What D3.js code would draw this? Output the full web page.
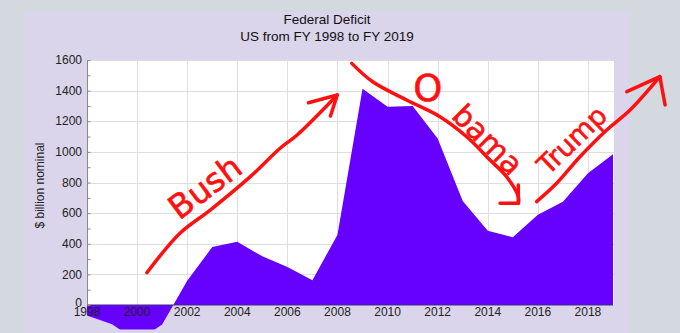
<!DOCTYPE html>
<html>
<head>
<meta charset="utf-8">
<script src="https://cdn.jsdelivr.net/npm/d3@7"></script>
<style>
  html, body { margin: 0; padding: 0; background: #d3d9df; }
  svg { display: block; }
</style>
</head>
<body>
<svg id="chart" width="680" height="333"></svg>
<script>
// ---- data ----
const years = [1998,1999,2000,2001,2002,2003,2004,2005,2006,2007,2008,2009,2010,2011,2012,2013,2014,2015,2016,2017,2018,2019];
const deficit = [-69,-126,-236,-128,158,378,413,318,248,161,459,1413,1294,1300,1087,680,485,442,590,675,860,984];
const xTicks = [1998,2000,2002,2004,2006,2008,2010,2012,2014,2016,2018];
const yTicks = [0,200,400,600,800,1000,1200,1400,1600];
const titleLines = ["Federal Deficit", "US from FY 1998 to FY 2019"];
const yTitle = "$ billion nominal";

// hand-drawn annotations, in [year, value]
const bushArrow = [[2000.39,211],[2001.72,470],[2002.92,620],[2004.52,838],[2005.72,1025],[2006.39,1110],[2007.99,1371]];
const bushHead = [[2006.84,1321],[2007.99,1371],[2007.72,1234]];
const obamaArrow = [[2008.57,1578],[2009.42,1456],[2010.76,1339],[2012.09,1230],[2013.16,1099],[2014.09,947],[2014.75,838],[2015.22,707],[2015.22,664]];
const obamaHead = [[2014.49,664],[2015.22,664],[2015.22,784]];
const trumpArrow = [[2015.95,675],[2016.75,795],[2017.68,968],[2018.75,1143],[2019.68,1273],[2020.87,1491]];
const trumpHead = [[2019.55,1393],[2020.87,1491],[2021.08,1306]];
const labels = [
  {text: "Bush", at: [2002.71, 771], rot: -37, size: 33},
  {text: "O", at: [2011.61, 1420], rot: 0, size: 37},
  {text: "bama", at: [2014.0, 1080], rot: 45, size: 30},
  {text: "Trump", at: [2017.36, 1078], rot: -44, size: 27}
];

// ---- layout ----
const svg = d3.select("#chart");
const W = 680, H = 333;
const panel = {x: 24, y: 12, w: 606, h: H - 12};
const plot = {l: 87, r: 613, t: 60, b: 305};

const x = d3.scaleLinear().domain([1998, 2019]).range([plot.l, plot.r]);
const y = d3.scaleLinear().domain([0, 1600]).range([plot.b, plot.t]);

svg.append("rect").attr("x", 0).attr("y", 0).attr("width", W).attr("height", H).attr("fill", "#d3d9df");
svg.append("rect").attr("x", panel.x).attr("y", panel.y).attr("width", panel.w).attr("height", panel.h).attr("fill", "#dad5ea");
svg.append("rect").attr("x", plot.l).attr("y", plot.t).attr("width", plot.r - plot.l + 1).attr("height", plot.b - plot.t).attr("fill", "#ffffff");

// gridlines
const grid = svg.append("g").attr("stroke", "#dedede").attr("stroke-width", 1);
yTicks.forEach(v => grid.append("line").attr("x1", plot.l).attr("x2", plot.r + 1).attr("y1", Math.round(y(v)) + 0.5).attr("y2", Math.round(y(v)) + 0.5));
xTicks.forEach(v => grid.append("line").attr("y1", plot.t).attr("y2", plot.b).attr("x1", Math.round(x(v)) + 0.5).attr("x2", Math.round(x(v)) + 0.5));

// area
svg.append("defs").append("clipPath").attr("id", "clip")
  .append("rect").attr("x", plot.l).attr("y", 0).attr("width", plot.r - plot.l).attr("height", y(-160));
const area = d3.area().x((d, i) => x(years[i])).y0(y(0)).y1(d => y(d));
svg.append("path").datum(deficit).attr("d", area).attr("fill", "#6600ff").attr("clip-path", "url(#clip)");

// axis lines
svg.append("line").attr("x1", plot.l).attr("x2", plot.r).attr("y1", y(0)).attr("y2", y(0)).attr("stroke", "#3d2a8a").attr("stroke-width", 1.2);
svg.append("line").attr("x1", plot.l + 0.5).attr("x2", plot.l + 0.5).attr("y1", plot.t).attr("y2", plot.b).attr("stroke", "#8a8a8a").attr("stroke-width", 1);

// y axis (ticks inside)
const yAxis = d3.axisLeft(y).tickValues(d3.range(0, 1601, 100)).tickSize(-3).tickFormat("");
svg.append("g").attr("transform", `translate(${plot.l + 0.5},0)`).call(yAxis)
  .call(g => g.select(".domain").remove())
  .call(g => g.selectAll("line").attr("stroke", "#8a8a8a"));

const font = "'Liberation Sans', Arial, sans-serif";
const yl = svg.append("g");
yl.selectAll("text").data(yTicks).join("text")
  .attr("x", 82).attr("y", d => y(d) - (d === 0 ? 2 : 0)).attr("dy", "0.35em")
  .attr("text-anchor", "end").attr("font-family", font).attr("font-size", 12).attr("fill", "#222")
  .text(d => d);

const xl = svg.append("g");
xl.selectAll("text").data(xTicks).join("text")
  .attr("x", d => x(d)).attr("y", y(0) + 7).attr("dy", "0.35em")
  .attr("text-anchor", "middle").attr("font-family", font).attr("font-size", 12).attr("fill", "#222")
  .text(d => d);

svg.append("text").attr("transform", `translate(44,${(plot.t + plot.b) / 2 + 3}) rotate(-90)`)
  .attr("text-anchor", "middle").attr("font-family", font).attr("font-size", 12).attr("fill", "#222")
  .text(yTitle);

svg.selectAll("text.title").data(titleLines).join("text").attr("class", "title")
  .attr("x", 327).attr("y", (d, i) => 24 + i * 17)
  .attr("text-anchor", "middle").attr("font-family", font).attr("font-size", 13.5).attr("fill", "#111")
  .text(d => d);

// annotations
const line = d3.line().x(d => x(d[0])).y(d => y(d[1])).curve(d3.curveCatmullRom);
const lineStraight = d3.line().x(d => x(d[0])).y(d => y(d[1]));
const ann = svg.append("g").attr("fill", "none").attr("stroke", "#ff1010").attr("stroke-width", 3.5)
  .attr("stroke-linecap", "round").attr("stroke-linejoin", "round");
[bushArrow, obamaArrow, trumpArrow].forEach(a => ann.append("path").attr("d", line(a)));
[bushHead, obamaHead, trumpHead].forEach(a => ann.append("path").attr("d", lineStraight(a)));

svg.selectAll("text.hand").data(labels).join("text").attr("class", "hand")
  .attr("transform", d => `translate(${x(d.at[0])},${y(d.at[1])}) rotate(${d.rot})`)
  .attr("text-anchor", "middle").attr("dy", "0.35em")
  .attr("font-family", "'DejaVu Sans', sans-serif").attr("font-size", d => d.size)
  .attr("fill", "#ff1010").attr("stroke", "#ff1010").attr("stroke-width", 0.6)
  .text(d => d.text);
</script>
</body>
</html>
